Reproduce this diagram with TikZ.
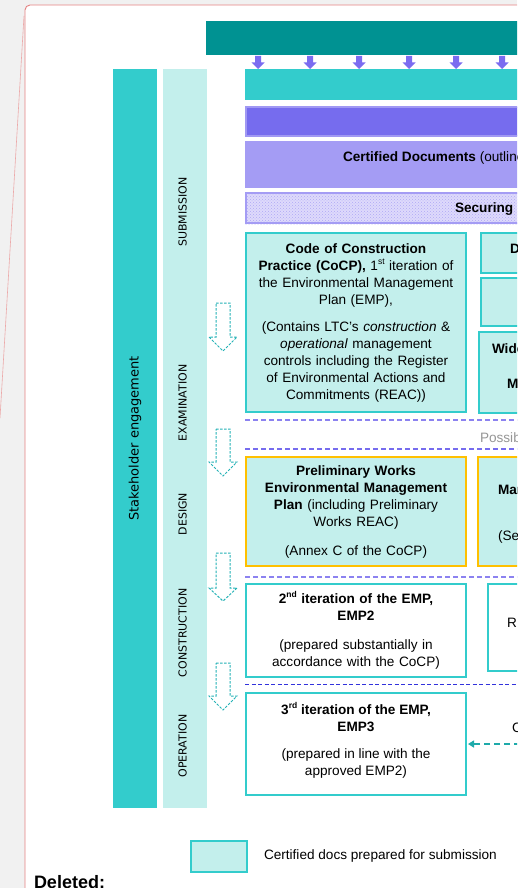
\documentclass[tikz,border=0pt]{standalone}
\usepackage{fontspec}
\setmainfont{Liberation Sans}
\newfontfamily\dejavu{DejaVu Sans}
\usetikzlibrary{patterns,arrows.meta}
\definecolor{bggrey}{RGB}{241,241,241}
\definecolor{pagered}{RGB}{228,130,130}
\definecolor{darkteal}{RGB}{0,146,146}
\definecolor{teal2}{RGB}{51,204,204}
\definecolor{paleteal}{RGB}{195,239,236}
\definecolor{arrowpurple}{RGB}{123,108,240}
\definecolor{purplebar}{RGB}{118,108,238}
\definecolor{purpleedge}{RGB}{160,152,243}
\definecolor{lilac}{RGB}{164,156,244}
\definecolor{securefill}{RGB}{222,218,251}
\definecolor{securedot}{RGB}{175,167,246}
\definecolor{orangeedge}{RGB}{255,192,0}
\definecolor{dashpurple}{RGB}{140,130,240}
\definecolor{dashblue}{RGB}{50,50,220}
\definecolor{hollowteal}{RGB}{35,178,182}
\definecolor{arrowteal}{RGB}{30,170,170}
\definecolor{greytext}{RGB}{150,150,150}
\newcommand{\supsm}[1]{\raisebox{0.42em}{\fontsize{8.5}{9}\selectfont #1}}
\begin{document}
\begin{tikzpicture}[x=1pt,y=-1pt,
  every node/.style={inner sep=0pt, outer sep=0pt},
  bodyfont/.style={font=\fontsize{13.6}{17}\selectfont},
  docbox/.style={bodyfont, draw=teal2, line width=2pt, align=center, text width=214pt, minimum width=220pt, rectangle},
  certbox/.style={docbox, fill=paleteal},
  pwbox/.style={docbox, fill=paleteal, draw=orangeedge, line width=2.5pt},
  laterbox/.style={docbox, fill=white},
  partbox/.style={draw=teal2, line width=2pt, fill=paleteal, rectangle, anchor=north west},
  barnode/.style={rectangle, anchor=north west},
  phaselabel/.style={font=\dejavu\fontsize{11}{13}\selectfont, rotate=90},
  hollowarrow/.style={draw=hollowteal, line width=1pt, dash pattern=on 2.5pt off 1.5pt},
  phaseline/.style={draw=dashpurple, line width=1.2pt, dash pattern=on 5pt off 3pt},
  clipped/.style={bodyfont, anchor=base west},
]
\useasboundingbox (0,0) rectangle (517,888);
\clip (0,0) rectangle (517,888);
% background and page
\fill[bggrey] (0,0) rectangle (517,888);
\fill[white, rounded corners=5pt] (540,5) -- (25,5) -- (25,900) -- (540,900) -- cycle;
\draw[pagered, line width=0.9pt, rounded corners=5pt] (540,5) -- (25,5) -- (25,900);
\draw[pagered!70, line width=0.6pt] (24,16) -- (0,418);

% top bars
\node[barnode, fill=darkteal, minimum width=330pt, minimum height=34pt] (topbar) at (206,21) {};
\foreach \ax in {258,310,359,409,456,502}
  \fill[arrowpurple] (\ax-3,56) -- (\ax+3,56) -- (\ax+3,62.5) -- (\ax+6.5,62.5) -- (\ax,69) -- (\ax-6.5,62.5) -- (\ax-3,62.5) -- cycle;
\node[barnode, fill=teal2, minimum width=290pt, minimum height=31pt] (tealbar) at (245,69) {};
\node[barnode, fill=purplebar, draw=purpleedge, line width=2pt, minimum width=290pt, minimum height=29pt] (purplebar) at (246,107) {};
\node[barnode, fill=lilac, minimum width=290pt, minimum height=47pt] (certdocs) at (245,141) {};
\node[clipped] (certtext) at (343,161) {\textbf{Certified Documents} (outline};
\fill[securefill] (245,192) rectangle (540,224);
\fill[pattern=crosshatch dots, pattern color=securedot] (245,192) rectangle (540,224);
\node[barnode, draw=lilac, line width=2pt, minimum width=290pt, minimum height=30pt] (securing) at (246,193) {};
\node[clipped] (sectext) at (455,212) {\textbf{Securing}};

% left columns
\node[rectangle, fill=teal2, minimum width=739pt, minimum height=44pt, rotate=90,
      font=\dejavu\fontsize{13}{15}\selectfont] (stake) at (135,438.5) {Stakeholder engagement};
\node[barnode, fill=paleteal, minimum width=44pt, minimum height=739pt] (phases) at (163,69) {};
\node[phaselabel] (psub) at (182.5,212) {SUBMISSION};
\node[phaselabel] (pexam) at (182.5,403) {EXAMINATION};
\node[phaselabel] (pdes) at (182.5,514) {DESIGN};
\node[phaselabel] (pcon) at (182.5,633) {CONSTRUCTION};
\node[phaselabel] (pop) at (182.5,746) {OPERATION};

% hollow dashed arrows
\foreach \ya/\yb/\yc in {303/337/351, 429/462/476, 553/588/601, 663/696/710}
  \draw[hollowarrow] (216,\ya) -- (230,\ya) -- (230,\yb) -- (237,\yb) -- (223,\yc) -- (209,\yb) -- (216,\yb) -- cycle;

% main boxes
\node[certbox, minimum height=179pt] (cocp) at (356,322.5) {%
\textbf{Code of Construction}\\
\textbf{Practice (CoCP),} 1\supsm{st} iteration of\\
the Environmental Management\\
Plan (EMP),\\[10pt]
(Contains LTC’s \textit{construction} \&\\
\textit{operational} management\\
controls including the Register\\
of Environmental Actions and\\
Commitments (REAC))};

\node[partbox, minimum width=60pt, minimum height=40pt] (r1) at (481,233) {};
\node[clipped] (r1text) at (510,253) {\textbf{D}};
\node[partbox, minimum width=60pt, minimum height=48pt] (r2) at (481,278) {};
\node[partbox, minimum width=60pt, minimum height=81pt] (r3) at (479,332) {};
\node[clipped] (r3a) at (492,353) {\textbf{Wider}};
\node[clipped] (r3b) at (507,388) {\textbf{Management}};

\draw[phaseline] (245,420) -- (520,420);
\node[clipped, text=greytext] (possible) at (480,442) {Possible};
\draw[phaseline, draw=purplebar] (245,449) -- (520,449);

\node[pwbox, minimum height=109pt] (pwemp) at (356,511.5) {%
\textbf{Preliminary Works}\\
\textbf{Environmental Management}\\
\textbf{Plan} (including Preliminary\\
Works REAC)\\[12pt]
(Annex C of the CoCP)};
\node[partbox, draw=orangeedge, line width=2.5pt, minimum width=60pt, minimum height=109pt] (r4) at (478,457) {};
\node[clipped] (r4a) at (498,494) {\textbf{Management}};
\node[clipped] (r4b) at (498,540) {(See};

\draw[phaseline] (245,577) -- (520,577);

\node[laterbox, minimum height=93pt] (emp2) at (356,630.5) {%
\textbf{2\supsm{nd} iteration of the EMP,}\\
\textbf{EMP2}\\[12pt]
(prepared substantially in\\
accordance with the CoCP)};
\node[partbox, fill=white, minimum width=60pt, minimum height=87pt] (r5) at (488,584) {};
\node[clipped] (r5a) at (507,627) {R};

\draw[draw=dashblue, line width=0.9pt, dash pattern=on 4pt off 2.5pt] (245,684) -- (520,684);

\node[laterbox, minimum height=102pt] (emp3) at (356,744) {};
\node[bodyfont, align=center] (emp3text) at (356,740) {%
\textbf{3\supsm{rd} iteration of the EMP,}\\
\textbf{EMP3}\\[10pt]
(prepared in line with the\\
approved EMP2)};
\node[clipped] (cfeedtext) at (512,732) {C};
\coordinate (cfeed) at (530,744);
\draw[arrowteal, line width=1.5pt, dash pattern=on 6pt off 4pt, shorten >=2pt,
      -{Triangle[length=6pt,width=7pt]}] (cfeed) -- (emp3.east);

% legend
\node[barnode, draw=teal2, line width=2pt, fill=paleteal, minimum width=56pt, minimum height=31pt] (legbox) at (191,841) {};
\node[clipped] (legtext) at (264,859) {Certified docs prepared for submission};

\node[font=\bfseries\fontsize{18}{20}\selectfont, anchor=base west] (deleted) at (34,888) {Deleted:};
\end{tikzpicture}
\end{document}
